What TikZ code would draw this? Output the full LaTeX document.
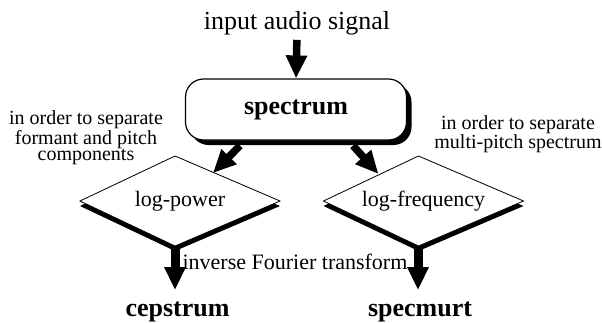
\documentclass[tikz,border=0pt]{standalone}
\usepackage{fontspec}
\setmainfont{Liberation Serif}
\usetikzlibrary{arrows.meta,calc,shadows}
\newcommand\drawkite[1]{%
  \fill[black] ($(#1)+(-100,5)$) -- ($(#1)+(-5,-40)$) -- ($(#1)+(100,5)$) -- ($(#1)+(-5,50)$) -- cycle;
  \path[kiteline] ($(#1)+(-100,0)$) -- ($(#1)+(-5,-45)$) -- ($(#1)+(100,0)$) -- ($(#1)+(-5,45)$) -- cycle;}
\begin{document}
\begin{tikzpicture}[x=1pt,y=-1pt,
  txt/.style={inner sep=0pt, anchor=base},
  bigtxt/.style={txt, font=\fontsize{26}{30}\selectfont\bfseries},
  midtxt/.style={txt, font=\fontsize{22}{26}\selectfont},
  notetxt/.style={txt, align=center, font=\fontsize{20}{16}\selectfont},
  bigarrow/.style={line width=7.5pt, -{Triangle[width=20pt,length=23pt]}},
  boxshape/.style={draw, line width=1.2pt, fill=white, rounded corners=18pt,
    minimum width=221pt, minimum height=61pt, inner sep=0pt,
    font=\fontsize{26}{30}\selectfont\bfseries,
    general shadow={fill=black, shadow xshift=5pt, shadow yshift=-5pt}},
  kiteline/.style={draw, line width=0.8pt, fill=white}]
\path[use as bounding box, fill=white] (0,0) rectangle (602,322);

% top input
\node[txt, font=\fontsize{26}{30}\selectfont] (in) at (297,29) {input audio signal};
\node[boxshape] (spec) at (296,109.5) {spectrum};
\draw[bigarrow, shorten <=5pt] (in.south) -- (spec.north);

% diamonds
\coordinate (lpc) at (180,201);
\coordinate (lfc) at (423.5,201);
\drawkite{lpc}
\drawkite{lfc}
\node[midtxt] (lp) at (180,206.7) {log-power};
\node[midtxt] (lf) at (423.5,206.7) {log-frequency};

% arrows from spectrum to diamonds
\coordinate (sl) at ($(spec.south)+(-56,5)$);
\coordinate (sr) at ($(spec.south)+(57,5)$);
\coordinate (lpin) at ($(lpc)+(33,-28)$);
\coordinate (lfin) at ($(lfc)+(-45,-27)$);
\draw[bigarrow] (sl) -- (lpin);
\draw[bigarrow] (sr) -- (lfin);

% notes (anchor base = last line's baseline)
\node[notetxt] (nl) at (86,160) {in order to separate\\formant and pitch\\components};
\node[notetxt] (nr) at (518,148.5) {in order to separate\\multi-pitch spectrum};

% outputs
\node[bigtxt] (ceps) at (177.5,316) {cepstrum};
\node[bigtxt] (spm) at (420,316) {specmurt};
\coordinate (lpb) at ($(lpc)+(-5,45)$);
\coordinate (lfb) at ($(lfc)+(-5.5,45)$);
\draw[bigarrow, line width=9pt, shorten >=11pt] (lpb) -- (lpb |- ceps.north);
\draw[bigarrow, line width=9pt, shorten >=11pt] (lfb) -- (lfb |- spm.north);
\node[midtxt] (ift) at (295,269) {inverse Fourier transform};
\end{tikzpicture}
\end{document}
